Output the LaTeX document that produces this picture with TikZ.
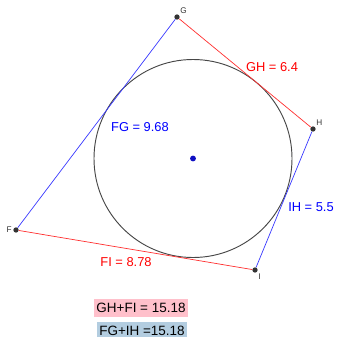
\documentclass[tikz,border=0pt]{standalone}
\usepackage{fontspec}
\setmainfont{Liberation Sans}
\usetikzlibrary{positioning, calc}
\usepackage{xcolor}
\definecolor{ggred}{HTML}{FF0000}
\definecolor{ggblue}{HTML}{0000FF}
\definecolor{ggredline}{HTML}{FF3030}
\definecolor{ggblueline}{HTML}{3838FF}
\definecolor{ggdark}{HTML}{333333}
\definecolor{ggpink}{HTML}{FFC0CB}
\definecolor{ggsky}{HTML}{B3CDE0}
\tikzset{
  pt/.style={circle, fill=ggdark, inner sep=0pt, minimum size=4.5pt},
  ptlabel/.style={font=\fontsize{7}{8}\selectfont, text=ggdark, inner sep=1pt},
  redside/.style={draw=ggredline, line width=0.6pt},
  blueside/.style={draw=ggblueline, line width=0.6pt},
  redlabel/.style={text=ggred, font=\fontsize{11}{13}\selectfont},
  bluelabel/.style={text=ggblue, font=\fontsize{11}{13}\selectfont},
  sumbox/.style={text=black, font=\fontsize{11.5}{13}\selectfont, inner xsep=2pt, inner ysep=3.5pt}
}

\begin{document}
\begin{tikzpicture}[x=0.03cm, y=-0.03cm]
        \useasboundingbox (0,0) rectangle (337,337);
        % incircle
        \node[circle, fill=ggblue!70!ggdark, inner sep=0pt, minimum size=5pt] (C) at (193,158.5) {};
        \draw[ggdark!90, line width=0.8pt] (C.center) circle[radius=2.97cm];
        % vertices
        \node[pt, label={[ptlabel]above right:G}] (G) at (177,17) {};
        \node[pt, label={[ptlabel]above right:H}] (H) at (313,129) {};
        \node[pt, label={[ptlabel]below right:I}] (I) at (255,270) {};
        \node[pt, label={[ptlabel]left:F}] (F) at (16,230) {};
        \draw[redside] (G) -- (H);
        \draw[blueside] (H) -- (I);
        \draw[redside] (I) -- (F);
        \draw[blueside] (F) -- (G);
        % side lengths
        \node[redlabel] (gh) at (272,67) {GH = 6.4};
        \node[bluelabel] (fg) at (140,127) {FG = 9.68};
        \node[bluelabel] (ih) at (311,207) {IH = 5.5};
        \node[redlabel] (fi) at (126,262) {FI = 8.78};
        % sums
        \node[sumbox, fill=ggpink] (sum1) at (141,308) {GH+FI = 15.18};
        \node[sumbox, fill=ggsky] (sum2) at (142,330.5) {FG+IH =15.18};
\end{tikzpicture}
\end{document}
